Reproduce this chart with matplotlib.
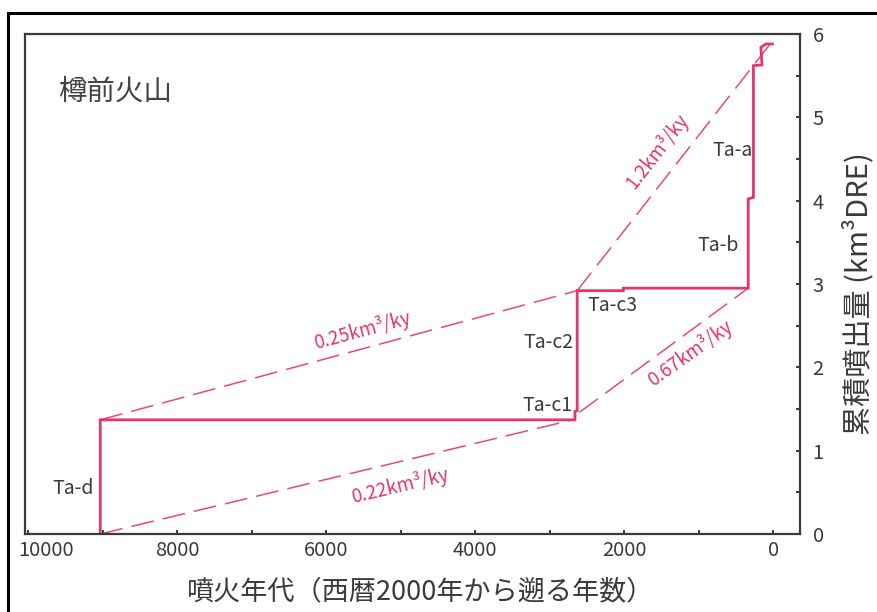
import numpy as np
import matplotlib
matplotlib.use("Agg")
import matplotlib.pyplot as plt
import matplotlib.transforms as mtransforms
from matplotlib.lines import Line2D

plt.rcParams['font.family'] = ['Noto Sans CJK JP', 'DejaVu Sans']

# cumulative erupted volume (step curve), years before 2000 AD
step_age = [9030, 9030, 2660, 2660, 2630, 2630, 2010, 2010, 335, 335, 265, 265, 150, 165, 100, 10]
step_vol = [0.0, 1.37, 1.37, 1.47, 1.48, 2.92, 2.92, 2.95, 2.95, 4.02, 4.04, 5.62, 5.63, 5.84, 5.88, 5.88]

# long-term eruption rate lines
rate_names = ['0.22km³/ky', '0.25km³/ky', '0.67km³/ky', '1.2km³/ky']
rate_age0 = [9030, 9030, 2600, 2630]
rate_vol0 = [0.0, 1.37, 1.46, 2.92]
rate_age1 = [2690, 2630, 335, 40]
rate_vol1 = [1.37, 2.92, 2.95, 5.88]
rate_lab_age = [5010, 5520, 1110, 1560]
rate_lab_vol = [0.58, 2.44, 2.17, 4.60]
rate_lab_rot = [13.3, 15.0, 35.5, 52.0]

# tephra names
tephra_names = ['Ta-d', 'Ta-c1', 'Ta-c2', 'Ta-c3', 'Ta-b', 'Ta-a']
tephra_age = [9400, 3030, 3020, 2160, 740, 540]
tephra_vol = [0.54, 1.54, 2.30, 2.74, 3.46, 4.60]

RED = '#e5356a'
INK = '#3a3a3a'

fig = plt.figure(figsize=(8.77, 6.12), dpi=100)
ax = fig.add_axes([25 / 877, 1 - 534 / 612, 775 / 877, 500 / 612])

# outer frame
fig.add_artist(Line2D([8 / 877, 1.0], [1 - 13 / 612, 1 - 13 / 612], color='black', lw=2.2,
                      transform=fig.transFigure))
fig.add_artist(Line2D([8 / 877, 8 / 877], [0.0, 1 - 13 / 612], color='black', lw=2.2,
                      transform=fig.transFigure))

for a0, v0, a1, v1 in zip(rate_age0, rate_vol0, rate_age1, rate_vol1):
    ax.plot([a0, a1], [v0, v1], color=RED, lw=1.1, dashes=(15, 6), alpha=0.9)

ax.plot(step_age, step_vol, color=RED, lw=2.0, solid_joinstyle='miter')

for name, x, y, r in zip(rate_names, rate_lab_age, rate_lab_vol, rate_lab_rot):
    ax.text(x, y, name, color=RED, fontsize=13.5, rotation=r, rotation_mode='anchor',
            ha='center', va='center')

for name, x, y in zip(tephra_names, tephra_age, tephra_vol):
    ax.text(x, y, name, color=INK, fontsize=14, ha='center', va='center')

ax.text(0.042, 0.885, '樽前火山', transform=ax.transAxes, color='#444444', fontsize=20.5,
        ha='left', va='center')

ax.set_xlim(10040, -360)
ax.set_ylim(0, 6)

ax.set_xticks(np.arange(0, 10001, 2000))
ax.set_xticks(np.arange(0, 10001, 1000), minor=True)
ax.set_yticks(np.arange(0, 7, 1))
ax.set_yticks(np.arange(0, 6.01, 0.5), minor=True)

ax.yaxis.tick_right()
ax.yaxis.set_label_position('right')
ax.tick_params(which='both', direction='in', length=3, width=1.4, color=INK,
               labelcolor=INK, labelsize=14.5)
ax.tick_params(axis='x', pad=4)
ax.tick_params(axis='y', pad=9)

for s in ax.spines.values():
    s.set_color(INK)
    s.set_linewidth(1.6)

ax.set_xlabel('噴火年代（西暦2000年から遡る年数）', fontsize=19.5, color=INK, labelpad=13)
ax.set_ylabel('累積噴出量 (km³DRE)', fontsize=21, color=INK, labelpad=14)
ax.xaxis.label.set_x(0.51)
ax.yaxis.label.set_y(0.48)

# nudge the 10000 label inside the frame
fig.canvas.draw()
shift = mtransforms.ScaledTranslation(18 / 100, 0, fig.dpi_scale_trans)
for lab in ax.get_xticklabels():
    if lab.get_text() == '10000':
        lab.set_transform(lab.get_transform() + shift)

fig.savefig('out.png', dpi=100)
